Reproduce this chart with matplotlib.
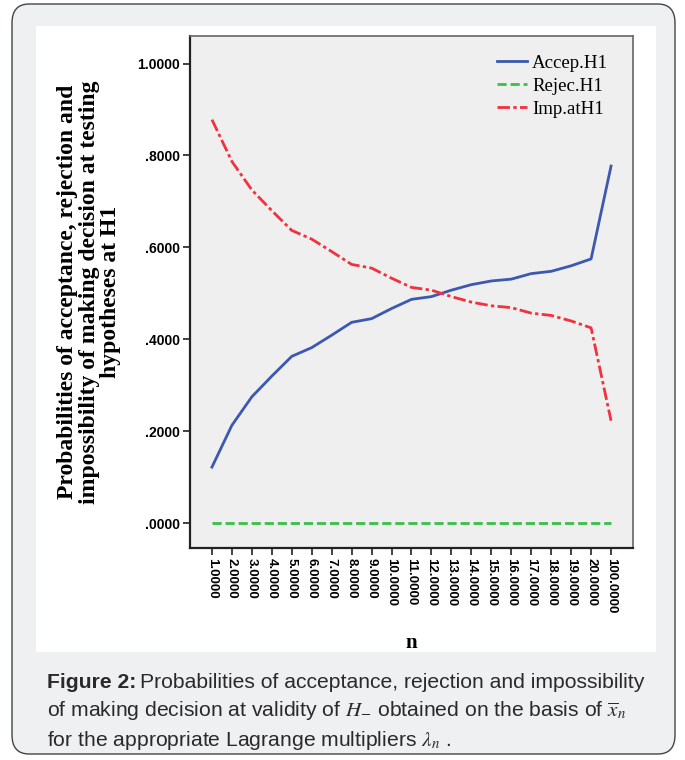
import matplotlib
matplotlib.use("Agg")
import matplotlib.pyplot as plt
from matplotlib.patches import FancyBboxPatch, Rectangle

plt.rcParams['mathtext.fontset'] = 'stix'

# Values per n
n_labels = ['1.0000', '2.0000', '3.0000', '4.0000', '5.0000', '6.0000', '7.0000',
            '8.0000', '9.0000', '10.0000', '11.0000', '12.0000', '13.0000', '14.0000',
            '15.0000', '16.0000', '17.0000', '18.0000', '19.0000', '20.0000', '100.0000']
accep = [0.122, 0.213, 0.275, 0.320, 0.363, 0.382, 0.409, 0.437, 0.445, 0.467, 0.487,
         0.493, 0.507, 0.519, 0.527, 0.531, 0.543, 0.548, 0.560, 0.575, 0.777]
rejec = [0.0] * 21
imp = [0.878, 0.787, 0.725, 0.680, 0.637, 0.618, 0.591, 0.563, 0.555, 0.533, 0.513,
       0.507, 0.493, 0.481, 0.473, 0.469, 0.457, 0.452, 0.440, 0.425, 0.223]
y_ticks = [0.0, 0.2, 0.4, 0.6, 0.8, 1.0]
y_tick_labels = ['.0000', '.2000', '.4000', '.6000', '.8000', '1.0000']

W, H = 685, 760
fig = plt.figure(figsize=(W / 100, H / 100), dpi=100)
fig.patch.set_facecolor('white')

# outer rounded card and inner white panel
card = FancyBboxPatch((12 / W, 6 / H), 663 / W, 750 / H,
                      boxstyle="round,pad=0,rounding_size=0.025",
                      transform=fig.transFigure, facecolor='#eff0f2',
                      edgecolor='#444444', linewidth=1.0, zorder=-2)
fig.patches.append(card)
panel = Rectangle((36 / W, 1 - 652 / H), 620 / W, 626 / H, transform=fig.transFigure,
                  facecolor='white', edgecolor='none', zorder=-1)
fig.patches.append(panel)

ax = fig.add_axes([190 / W, 1 - 548 / H, 443 / W, 512 / H])
ax.set_facecolor('#efefef')
x = list(range(len(n_labels)))

ax.plot(x, accep, color='#3c58b0', lw=2.0, label='Accep.H1')
ax.plot(x, rejec, color='#3cbe4a', lw=2.0, ls=(0, (3.3, 1.4)), label='Rejec.H1')
ax.plot(x, imp, color='#f0323f', lw=2.0, ls=(0, (4.5, 1.2, 1.2, 1.2)), label='Imp.atH1')

ax.set_xlim(-1.1, 21.1)
ax.set_ylim(-0.054, 1.06)
ax.set_yticks(y_ticks)
ax.set_yticklabels(y_tick_labels, fontsize=10, fontweight='bold', family='Liberation Sans')
ax.set_xticks(x)
ax.set_xticklabels(n_labels, rotation=-90, fontsize=9.5, fontweight='bold',
                   family='Liberation Sans', va='top', ha='center')
ax.tick_params(direction='out', length=5, width=1.2, color='#222222', pad=2)

for side in ['left', 'bottom']:
    ax.spines[side].set_color('#222222')
    ax.spines[side].set_linewidth(1.6)
for side in ['top', 'right']:
    ax.spines[side].set_color('#666666')
    ax.spines[side].set_linewidth(1.2)

ax.set_xlabel('n', family='Liberation Serif', fontweight='bold', fontsize=15, labelpad=14)
ax.set_ylabel('Probabilities of acceptance, rejection and\n'
              'impossibility of making decision at testing\n'
              'hypotheses at H1', family='Liberation Serif', fontweight='bold',
              fontsize=17, linespacing=1.02, labelpad=12)

leg = ax.legend(loc='upper right', frameon=False, prop={'family': 'Liberation Serif', 'size': 13.6},
                handlelength=1.6, handletextpad=0.26, labelspacing=0.3,
                borderaxespad=0.0, bbox_to_anchor=(0.961, 0.978))

# caption
cap_font = dict(family='Liberation Sans', fontsize=15.2, color='#2a2a2a')
y1 = 1 - 683 / H
bold = fig.text(47 / W, y1, 'Figure 2:', fontweight='bold', va='center', **cap_font)
fig.canvas.draw()
bb = bold.get_window_extent()
fig.text(bb.x1 / W + 4 / W, y1, 'Probabilities of acceptance, rejection and impossibility',
         va='center', **cap_font)
fig.text(47 / W, 1 - 711 / H,
         r'of making decision at validity of $H_{-}$ obtained on the basis of $\overline{x}_n$',
         va='center', **cap_font)
fig.text(47 / W, 1 - 740 / H,
         r'for the appropriate Lagrange multipliers $\lambda_n$ .',
         va='center', **cap_font)

fig.savefig('out.png', dpi=100)
